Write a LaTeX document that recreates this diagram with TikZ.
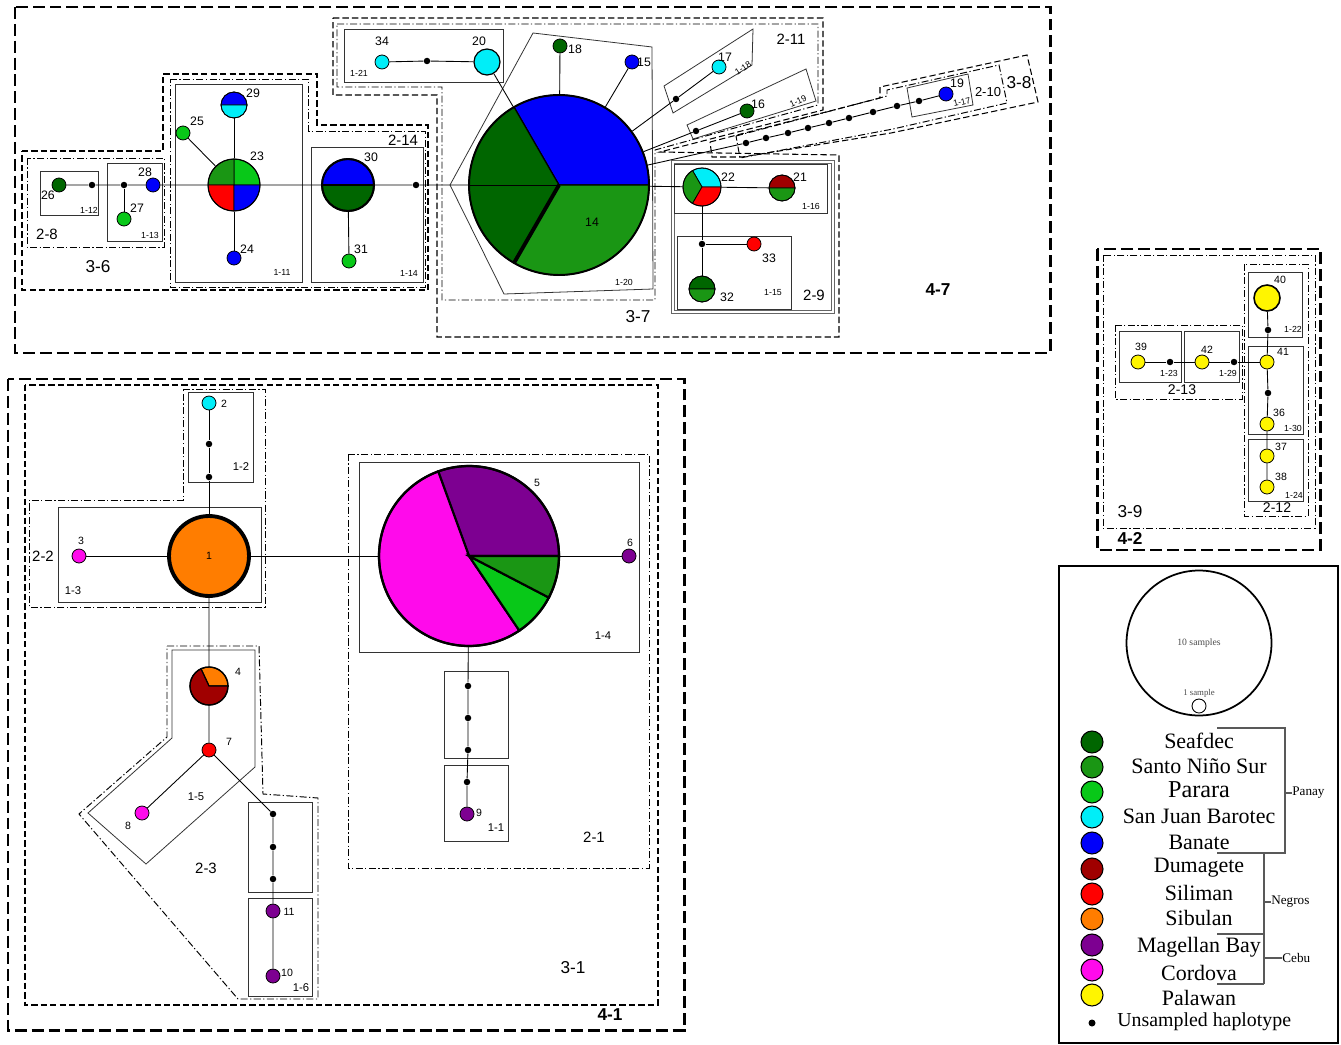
\documentclass[tikz,border=0pt]{standalone}
\usepackage{fontspec}
\setmainfont{Liberation Sans}
\newfontfamily\legfont{Liberation Serif}
\newcommand{\fsz}[1]{\fontsize{#1}{#1}\selectfont}
% one pie slice: [border width]{centre}{radius}{from}{to}{colour}
\newcommand{\hslice}[6][0.45pt]{\filldraw[fill=#6, line width=#1] (#2) -- ++(#4:#3) arc[start angle=#4, end angle=#5, radius=#3] -- cycle;}
\definecolor{cSea}{RGB}{0,102,0}
\definecolor{cSNS}{RGB}{26,150,20}
\definecolor{cPar}{RGB}{8,200,24}
\definecolor{cSJB}{RGB}{0,238,248}
\definecolor{cBan}{RGB}{0,0,250}
\definecolor{cDum}{RGB}{160,0,0}
\definecolor{cSil}{RGB}{255,0,0}
\definecolor{cSib}{RGB}{255,125,0}
\definecolor{cMag}{RGB}{125,0,145}
\definecolor{cCor}{RGB}{255,10,235}
\definecolor{cPal}{RGB}{255,245,0}
\tikzset{
  hs/.style={circle, draw, line width=0.45pt, inner sep=0pt, minimum size=0.28cm},
  hm/.style={hs, minimum size=0.52cm},
  hl/.style={hs, minimum size=0.76cm},
  hx/.style={hs, minimum size=1.04cm},
  hg/.style={hs, minimum size=3.6cm, line width=1.1pt},
  udot/.style={circle, fill=black, inner sep=0pt, minimum size=0.13cm},
  link/.style={line width=0.5pt},
  tn/.style={font=\fsz{7}, inner sep=0pt},
  tb/.style={font=\fsz{6}, inner sep=0pt},
  bx/.style={draw=black!80, line width=0.45pt},
  lvone/.style={font=\fsz{5}, inner sep=0pt},
  lvoneb/.style={font=\fsz{6.4}, inner sep=0pt},
  lvtwo/.style={font=\fsz{8.5}, inner sep=0pt},
  lvthree/.style={font=\fsz{9.8}, inner sep=0pt},
  lvfour/.style={font=\bfseries\fsz{9.8}, inner sep=0pt},
  ddot/.style={draw, line width=0.55pt, dash pattern=on 4pt off 1.4pt on 0.7pt off 1.4pt},
  dsh/.style={draw, line width=0.6pt, dash pattern=on 3.6pt off 1.8pt},
  bigdsh/.style={draw, line width=1.7pt, dash pattern=on 6.8pt off 2.8pt},
  leg/.style={circle, draw, line width=0.6pt, inner sep=0pt, minimum size=0.44cm},
  legt/.style={font=\legfont\fsz{12.5}, inner sep=0pt},
  brk/.style={draw=black!65, line width=0.6pt},
}
\begin{document}
\begin{tikzpicture}[x=0.02cm, y=0.02cm]
\fill[white] (0,0) rectangle (1341,-1044);
\useasboundingbox (0,0) rectangle (1341,-1044);

% ---- level 4 groups
\draw[bigdsh] (15,-7) rectangle (1050,-353);
\draw[bigdsh] (1097,-249) rectangle (1320,-550);
\draw[bigdsh] (8,-379) rectangle (684,-1030);
\node[lvfour] (g47) at (938,-290) {4-7};
\node[lvfour] (g42) at (1130,-538) {4-2};
\node[lvfour] (g41) at (610,-1015) {4-1};

% ---- level 3 groups
\draw[dsh] (22,-151) -- (163,-151) -- (163,-74) -- (317,-74) -- (317,-125) -- (428,-125) -- (428,-290) -- (22,-290) -- cycle;
\draw[dsh] (333,-18) -- (823,-18) -- (823,-110) -- (660,-152) -- (839,-155) -- (839,-337) -- (437,-337) -- (437,-95) -- (333,-95) -- cycle;
\draw[dsh] (710,-142) -- (880,-98) -- (880,-87) -- (1027,-55) -- (1038,-102) -- (891,-133) -- (742,-157) -- (712,-157) -- cycle;
\draw[ddot] (1103,-255) rectangle (1315,-528);
\draw[dsh] (25,-385) rectangle (658,-1005);
\node[lvthree] (g36) at (98,-267) {3-6};
\node[lvthree] (g37) at (638,-317) {3-7};
\node[lvthree] (g38) at (1019,-83) {3-8};
\node[lvthree] (g39) at (1130,-512) {3-9};
\node[lvthree] (g31) at (573,-968) {3-1};

% ---- level 2 groups
\draw[ddot] (27,-158) rectangle (164,-247);
\draw[ddot] (170,-79) -- (308,-79) -- (308,-131) -- (425,-131) -- (425,-287) -- (170,-287) -- cycle;
\draw[ddot] (337,-24) -- (818,-24) -- (818,-105) -- (655,-150) -- (655,-300) -- (442,-300) -- (442,-87) -- (337,-87) -- cycle;
\draw[ddot] (736,-136) -- (887,-96) -- (887,-90) -- (999,-65) -- (1007,-103) -- (893,-129) -- (740,-158) -- cycle;
\draw[black!60, line width=0.5pt] (671,-160) rectangle (834,-313);
\draw[black!60, line width=0.5pt] (674,-163) rectangle (831,-310);
\draw[ddot] (1115,-325) rectangle (1242,-399);
\draw[ddot] (1244,-264) rectangle (1308,-516);
\draw[ddot] (183,-389) -- (265,-389) -- (265,-607) -- (29,-607) -- (29,-500) -- (183,-500) -- cycle;
\draw[ddot] (167,-646) -- (259,-646) -- (263,-794) -- (318,-798) -- (318,-999) -- (238,-999) -- (79,-814) -- (167,-737) -- cycle;
\draw[ddot] (348,-454) rectangle (649,-868);
\node[lvtwo] (g28) at (47,-234) {2-8};
\node[lvtwo] (g214) at (403,-140) {2-14};
\node[lvtwo] (g211) at (791,-39) {2-11};
\node[font=\fsz{7.4}, inner sep=0pt] (g210) at (988,-92) {2-10};
\node[lvtwo] (g29) at (814,-295) {2-9};
\node[font=\fsz{8}, inner sep=0pt] (g213) at (1182,-390) {2-13};
\node[font=\fsz{8}, inner sep=0pt] (g212) at (1277,-508) {2-12};
\node[lvtwo] (g22) at (43,-556) {2-2};
\node[lvtwo] (g23) at (206,-868) {2-3};
\node[lvtwo] (g21) at (594,-837) {2-1};

% ---- level 1 groups
\draw[bx] (40,-171) rectangle (98,-215);
\draw[bx] (107,-163) rectangle (162,-241);
\draw[bx] (175,-84) rectangle (302,-282);
\draw[bx] (311,-147) rectangle (423,-282);
\draw[bx] (344,-29) rectangle (503,-82);
\draw[bx] (533,-33) -- (652,-47) -- (653,-289) -- (504,-294) -- (450,-185) -- cycle;
\draw[bx] (664,-86) -- (753,-29) -- (752,-65) -- (673,-113) -- cycle;
\draw[bx] (687,-125) -- (806,-69) -- (816,-101) -- (693,-139) -- cycle;
\draw[bx] (907,-88) -- (968,-74) -- (973,-105) -- (912,-117) -- cycle;
\draw[bx] (674,-164) rectangle (827,-213);
\draw[bx] (677,-236) rectangle (791,-309);
\draw[bx] (1248,-272) rectangle (1302,-337);
\draw[bx] (1248,-346) rectangle (1303,-434);
\draw[bx] (1248,-439) rectangle (1303,-501);
\draw[bx] (1119,-331) rectangle (1181,-382);
\draw[bx] (1184,-331) rectangle (1239,-382);
\draw[bx] (188,-392) rectangle (253,-482);
\draw[bx] (58,-507) rectangle (261,-602);
\draw[bx] (172,-650) -- (255,-650) -- (255,-767) -- (146,-864) -- (88,-813) -- (172,-738) -- cycle;
\draw[bx] (248,-802) rectangle (312,-892);
\draw[bx] (248,-898) rectangle (312,-996);
\draw[bx] (359,-462) rectangle (639,-652);
\draw[bx] (444,-671) rectangle (508,-758);
\draw[bx] (444,-765) rectangle (508,-841);
\node[lvone] (g112) at (89,-210) {1-12};
\node[lvone] (g113) at (150,-235) {1-13};
\node[lvone] (g111) at (282,-272) {1-11};
\node[lvone] (g114) at (409,-273) {1-14};
\node[lvone] (g121) at (359,-73) {1-21};
\node[lvone] (g120) at (624,-282) {1-20};
\node[lvone, rotate=33] (g118) at (743,-68) {1-18};
\node[lvone, rotate=25] (g119) at (798,-101) {1-19};
\node[lvone, rotate=13] (g117) at (962,-102) {1-17};
\node[lvone] (g116) at (811,-206) {1-16};
\node[lvone] (g115) at (773,-293) {1-15};
\node[lvone] (g122) at (1293,-329) {1-22};
\node[lvone] (g130) at (1293,-428) {1-30};
\node[lvone] (g124) at (1294,-495) {1-24};
\node[lvone] (g123) at (1169,-373) {1-23};
\node[lvone] (g129) at (1228,-373) {1-29};
\node[lvoneb] (g12) at (241,-467) {1-2};
\node[lvoneb] (g13) at (73,-591) {1-3};
\node[lvoneb] (g15) at (196,-797) {1-5};
\node[lvoneb] (g16) at (301,-988) {1-6};
\node[lvoneb] (g14) at (603,-636) {1-4};
\node[lvoneb] (g11) at (496,-828) {1-1};

% ---- pies
\hslice{234,-185}{26}{0}{90}{cPar}
\hslice{234,-185}{26}{90}{180}{cSNS}
\hslice{234,-185}{26}{180}{270}{cSil}
\hslice{234,-185}{26}{270}{360}{cBan}
\hslice{234,-105}{13}{0}{180}{cBan}
\hslice{234,-105}{13}{180}{360}{cSJB}
\hslice[1pt]{348,-185}{26}{0}{180}{cBan}
\hslice[1pt]{348,-185}{26}{180}{360}{cSea}
\hslice[0.7pt]{559,-185}{90}{0}{120}{cBan}
\hslice[0.7pt]{559,-185}{90}{120}{240}{cSea}
\hslice[0.7pt]{559,-185}{90}{240}{360}{cSNS}
\draw[line width=2.2pt] (559,-185) -- ++(240:90);
\draw[link] (559,-185) -- ++(180:90);
\hslice{702,-187}{19}{0}{120}{cSJB}
\hslice{702,-187}{19}{120}{240}{cSNS}
\hslice{702,-187}{19}{240}{360}{cSil}
\hslice{782,-188}{13}{0}{180}{cDum}
\hslice{782,-188}{13}{180}{360}{cSNS}
\hslice{702,-289}{13}{0}{180}{cSea}
\hslice{702,-289}{13}{180}{360}{cSNS}
\hslice[0.7pt]{209,-686}{19}{0}{115}{cSib}
\hslice[0.7pt]{209,-686}{19}{115}{360}{cDum}
\hslice[1.2pt]{469,-556}{90}{0}{110}{cMag}
\hslice[1.2pt]{469,-556}{90}{110}{304}{cCor}
\hslice[1.2pt]{469,-556}{90}{304}{332.5}{cPar}
\hslice[1.2pt]{469,-556}{90}{332.5}{360}{cSNS}

% ---- haplotypes, top group
\node[hs, fill=cSea] (h26) at (59,-185) {};
\node[udot] (u1) at (92,-185) {};
\node[udot] (u2) at (124,-185) {};
\node[hs, fill=cBan] (h28) at (153,-185) {};
\node[hs, fill=cPar] (h27) at (124,-219) {};
\node[hx, line width=0.6pt] (h23) at (234,-185) {};
\node[hm] (h29) at (234,-105) {};
\node[hs, fill=cPar] (h25) at (183,-133) {};
\node[hs, fill=cBan] (h24) at (234,-258) {};
\node[hx, line width=1.1pt] (h30) at (348,-185) {};
\node[hs, fill=cPar] (h31) at (349,-261) {};
\node[udot] (u3) at (416,-185) {};
\node[hg] (h14) at (559,-185) {};
\node[hs, fill=cSea] (h18) at (560,-46) {};
\node[hs, fill=cBan] (h15) at (632,-62) {};
\node[hs, fill=cSJB] (h34) at (382,-62) {};
\node[udot] (u4) at (427,-61) {};
\node[hm, fill=cSJB, line width=0.7pt] (h20) at (487,-62) {};
\node[hs, fill=cSJB] (h17) at (719,-67) {};
\node[udot] (u5) at (676,-99) {};
\node[hs, fill=cSea] (h16) at (747,-111) {};
\node[udot] (u6) at (696,-131) {};
\node[udot] (c1) at (746,-143) {};
\node[udot] (c2) at (766,-138) {};
\node[udot] (c3) at (788,-133) {};
\node[udot] (c4) at (808,-128) {};
\node[udot] (c5) at (829,-123) {};
\node[udot] (c6) at (849,-118) {};
\node[udot] (c7) at (873,-112) {};
\node[udot] (c8) at (897,-106) {};
\node[udot] (c9) at (919,-101) {};
\node[hs, fill=cBan] (h19) at (946,-94) {};
\node[hl] (h22) at (702,-187) {};
\node[hm] (h21) at (782,-188) {};
\node[udot] (u7) at (702,-244) {};
\node[hs, fill=cSil] (h33) at (754,-244) {};
\node[hm] (h32) at (702,-289) {};

% ---- haplotypes, right group
\node[hm, fill=cPal, line width=0.9pt] (h40) at (1267,-298) {};
\node[udot] (u8) at (1268,-330) {};
\node[hs, fill=cPal] (h41) at (1267,-362) {};
\node[udot] (u9) at (1268,-393) {};
\node[hs, fill=cPal] (h36) at (1267,-424) {};
\node[hs, fill=cPal] (h37) at (1267,-456) {};
\node[hs, fill=cPal] (h38) at (1267,-487) {};
\node[hs, fill=cPal] (h39) at (1138,-362) {};
\node[udot] (u10) at (1170,-362) {};
\node[hs, fill=cPal] (h42) at (1202,-362) {};
\node[udot] (u11) at (1234,-362) {};

% ---- haplotypes, bottom group
\node[hs, fill=cSib, minimum size=1.6cm, line width=2.2pt, font=\fsz{6}] (h1) at (209,-556) {1};
\node[hs, fill=cSJB] (h2) at (209,-403) {};
\node[udot] (u12) at (209,-444) {};
\node[udot] (u13) at (209,-477) {};
\node[hs, fill=cCor] (h3) at (79,-556) {};
\node[hl, line width=0.7pt] (h4) at (209,-686) {};
\node[hs, fill=cSil] (h7) at (209,-750) {};
\node[hs, fill=cCor] (h8) at (142,-813) {};
\node[udot] (u14) at (273,-814) {};
\node[udot] (u15) at (273,-847) {};
\node[udot] (u16) at (273,-879) {};
\node[hs, fill=cMag] (h11) at (273,-911) {};
\node[hs, fill=cMag] (h10) at (273,-976) {};
\node[hg, line width=1.3pt] (h5) at (469,-556) {};
\node[hs, fill=cMag] (h6) at (629,-556) {};
\node[udot] (u17) at (468,-686) {};
\node[udot] (u18) at (468,-718) {};
\node[udot] (u19) at (468,-750) {};
\node[udot] (u20) at (467,-782) {};
\node[hs, fill=cMag] (h9) at (467,-814) {};

% ---- connectors
\draw[link] (h26) -- (u1) -- (u2) -- (h28) -- (h23) -- (h30) -- (u3) -- (h14) -- (h22) -- (h21);
\draw[link] (u2) -- (h27);
\draw[link] (h23) -- (h29);
\draw[link] (h23) -- (h25);
\draw[link] (h23) -- (h24);
\draw[link] (h30) -- (h31);
\draw[link] (h14) -- (h18);
\draw[link] (h14) -- (h15);
\draw[link] (h14) -- (h20) -- (u4) -- (h34);
\draw[link] (h14) -- (u5) -- (h17);
\draw[link] (h14) -- (u6) -- (h16);
\draw[link] (h14) -- (c1) -- (c2) -- (c3) -- (c4) -- (c5) -- (c6) -- (c7) -- (c8) -- (c9) -- (h19);
\draw[link] (h22) -- (u7) -- (h32);
\draw[link] (u7) -- (h33);
\draw[link] (h40) -- (u8) -- (h41) -- (u9) -- (h36) -- (h37) -- (h38);
\draw[link] (h39) -- (u10) -- (h42) -- (u11) -- (h41);
\draw[link] (h2) -- (u12) -- (u13) -- (h1);
\draw[link] (h3) -- (h1) -- (h5) -- (h6);
\draw[link] (h1) -- (h4) -- (h7) -- (h8);
\draw[link] (h7) -- (u14) -- (u15) -- (u16) -- (h11) -- (h10);
\draw[link] (h5) -- (u17) -- (u18) -- (u19) -- (u20) -- (h9);

% ---- haplotype numbers
\node[tn] (t26) at (48,-195) {26};
\node[tn] (t28) at (145,-172) {28};
\node[tn] (t27) at (137,-208) {27};
\node[tn] (t29) at (253,-93) {29};
\node[tn] (t25) at (197,-121) {25};
\node[tn] (t23) at (257,-156) {23};
\node[tn] (t24) at (247,-249) {24};
\node[tn] (t30) at (371,-157) {30};
\node[tn] (t31) at (361,-249) {31};
\node[tn] (t34) at (382,-41) {34};
\node[tn] (t20) at (479,-41) {20};
\node[tn] (t18) at (575,-49) {18};
\node[tn] (t15) at (644,-62) {15};
\node[tn] (t14) at (592,-222) {14};
\node[tn] (t17) at (725,-57) {17};
\node[tn] (t16) at (758,-104) {16};
\node[tn] (t19) at (957,-83) {19};
\node[tn] (t22) at (728,-177) {22};
\node[tn] (t21) at (800,-177) {21};
\node[tn] (t33) at (769,-258) {33};
\node[tn] (t32) at (727,-297) {32};
\node[tb] (t40) at (1280,-280) {40};
\node[tb] (t41) at (1283,-352) {41};
\node[tb] (t36) at (1279,-413) {36};
\node[tb] (t37) at (1281,-447) {37};
\node[tb] (t38) at (1281,-477) {38};
\node[tb] (t39) at (1141,-347) {39};
\node[tb] (t42) at (1207,-350) {42};
\node[tb] (t2) at (224,-404) {2};
\node[tb] (t3) at (81,-541) {3};
\node[tb] (t4) at (238,-672) {4};
\node[tb] (t7) at (229,-742) {7};
\node[tb] (t8) at (128,-826) {8};
\node[tb] (t11) at (289,-912) {11};
\node[tb] (t10) at (287,-973) {10};
\node[tb] (t5) at (537,-483) {5};
\node[tb] (t6) at (630,-543) {6};
\node[tb] (t9) at (479,-813) {9};

% ---- legend
\draw[line width=0.6pt] (1059,-566) rectangle (1338,-1043);
\node[circle, draw, line width=1pt, minimum size=2.9cm, inner sep=0pt, text=black!70, font=\legfont\fsz{5.5}] (ten) at (1199,-643) {10 samples};
\node[text=black!70, font=\legfont\fsz{5}, inner sep=0pt] (onet) at (1199,-693) {1 sample};
\node[hs, line width=0.5pt] (one) at (1199,-706) {};
\node[leg, fill=cSea] (ksea) at (1092,-742) {};
\node[leg, fill=cSNS] (ksns) at (1092,-767) {};
\node[leg, fill=cPar] (kpar) at (1092,-792) {};
\node[leg, fill=cSJB] (ksjb) at (1092,-817) {};
\node[leg, fill=cBan] (kban) at (1092,-843) {};
\node[leg, fill=cDum] (kdum) at (1092,-869) {};
\node[leg, fill=cSil] (ksil) at (1092,-894) {};
\node[leg, fill=cSib] (ksib) at (1092,-919) {};
\node[leg, fill=cMag] (kmag) at (1092,-945) {};
\node[leg, fill=cCor] (kcor) at (1092,-970) {};
\node[leg, fill=cPal] (kpal) at (1092,-995) {};
\node[udot, minimum size=0.14cm] (kuns) at (1092,-1023) {};
\node[legt] (lsea) at (1199,-741) {Seafdec};
\node[legt] (lsns) at (1199,-766) {Santo Niño Sur};
\node[legt, font=\legfont\fsz{13.8}] (lpar) at (1199,-790) {Parara};
\node[legt] (lsjb) at (1199,-816) {San Juan Barotec};
\node[legt] (lban) at (1199,-842) {Banate};
\node[legt] (ldum) at (1199,-868) {Dumagete};
\node[legt] (lsil) at (1199,-893) {Siliman};
\node[legt] (lsib) at (1199,-918) {Sibulan};
\node[legt] (lmag) at (1199,-947) {Magellan Bay};
\node[legt] (lcor) at (1199,-973) {Cordova};
\node[legt] (lpal) at (1199,-998) {Palawan};
\node[legt, font=\legfont\fsz{11.3}, anchor=west] (luns) at (1117,-1022) {Unsampled haplotype};
\node[font=\legfont\fsz{7.5}, inner sep=0pt, anchor=west] (panay) at (1292,-793) {Panay};
\node[font=\legfont\fsz{7.5}, inner sep=0pt, anchor=west] (negros) at (1271,-902) {Negros};
\node[font=\legfont\fsz{7.5}, inner sep=0pt, anchor=west] (cebu) at (1282,-958) {Cebu};
\draw[brk] (1217,-728) -- (1285,-728) -- (1285,-853) -- (1217,-853);
\draw[brk] (1285,-793) -- (panay.west);
\draw[brk] (1264,-853) -- (1264,-984);
\draw[brk] (1217,-934) -- (1264,-934);
\draw[brk] (1217,-984) -- (1264,-984);
\draw[brk] (1264,-902) -- (negros.west);
\draw[brk] (1264,-958) -- (cebu.west);
\end{tikzpicture}
\end{document}
